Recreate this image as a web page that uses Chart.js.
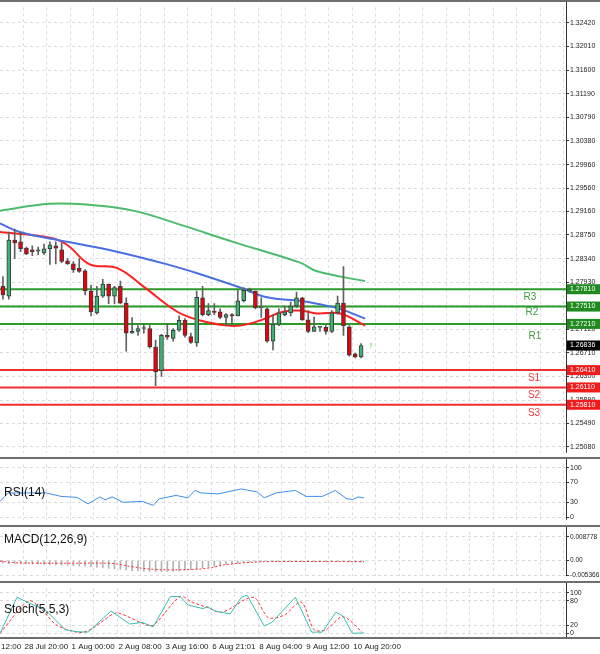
<!DOCTYPE html>
<html>
<head>
<meta charset="utf-8">
<script src="https://cdn.jsdelivr.net/npm/chart.js@4"></script>
<style>
  body { margin: 0; background: #fff; }
  #wrap { position: relative; width: 600px; height: 654px; overflow: hidden; }
  canvas { position: absolute; left: 0; }
  .sep { position: absolute; left: 0; width: 600px; height: 2px; background: #6e6e6e; }
</style>
</head>
<body>
<div id="wrap">
  <div class="sep" style="top:0"></div>
  <canvas id="main" width="600" height="456" style="top:2px"></canvas>
  <div class="sep" style="top:457px"></div>
  <canvas id="rsi" width="600" height="66" style="top:459px"></canvas>
  <div class="sep" style="top:525px"></div>
  <canvas id="macd" width="600" height="54" style="top:527px"></canvas>
  <div class="sep" style="top:581px"></div>
  <canvas id="stoch" width="600" height="71" style="top:583px"></canvas>
</div>
<script>
// H4 candles
const opens  = [1.2786,1.2769,1.2866,1.2863,1.2852,1.2849,1.2847,1.2844,1.2851,1.2856,1.2849,1.2830,1.2825,1.2817,1.2813,1.2778,1.2740,1.2769,1.2790,1.2769,1.2786,1.2757,1.2705,1.2708,1.2713,1.2713,1.2681,1.2640,1.2701,1.2696,1.2710,1.2727,1.2699,1.2688,1.2766,1.2737,1.2742,1.2742,1.2732,1.2737,1.2735,1.2761,1.2778,1.2778,1.2749,1.2747,1.2691,1.2720,1.2737,1.2740,1.2752,1.2766,1.2728,1.2708,1.2715,1.2715,1.2708,1.2740,1.2757,1.2716,1.2669,1.2664];
const highs  = [1.2803,1.2880,1.2885,1.2880,1.2854,1.2856,1.2854,1.2859,1.2863,1.2863,1.2861,1.2834,1.2829,1.2834,1.2815,1.2788,1.2786,1.2798,1.2790,1.2786,1.2795,1.2766,1.2732,1.2718,1.2722,1.2718,1.2693,1.2703,1.2722,1.2713,1.2735,1.2730,1.2705,1.2778,1.2786,1.2756,1.2756,1.2747,1.2739,1.2739,1.2779,1.2784,1.2783,1.2778,1.2766,1.2749,1.2737,1.2747,1.2752,1.2759,1.2776,1.2767,1.2744,1.2733,1.2716,1.2718,1.2744,1.2769,1.2820,1.2718,1.2670,1.2687];
const lows   = [1.2764,1.2764,1.2834,1.2846,1.2841,1.2839,1.2841,1.2841,1.2824,1.2825,1.2827,1.2824,1.2810,1.2810,1.2771,1.2735,1.2738,1.2767,1.2756,1.2756,1.2756,1.2674,1.2705,1.2701,1.2705,1.2679,1.2614,1.2630,1.2694,1.2691,1.2708,1.2698,1.2687,1.2682,1.2735,1.2735,1.2737,1.2730,1.2718,1.2718,1.2735,1.2759,1.2776,1.2747,1.2732,1.2689,1.2676,1.2718,1.2735,1.2735,1.2749,1.2727,1.2706,1.2708,1.2708,1.2703,1.2706,1.2738,1.2701,1.2665,1.2662,1.2662];
const closes = [1.2771,1.2866,1.2861,1.2851,1.2842,1.2846,1.2849,1.2851,1.2858,1.2852,1.2829,1.2825,1.2815,1.2812,1.2778,1.2742,1.2769,1.2790,1.2769,1.2784,1.2757,1.2705,1.2708,1.2713,1.2714,1.2681,1.2638,1.2701,1.2698,1.2710,1.2727,1.2701,1.2689,1.2767,1.2737,1.2744,1.2741,1.2732,1.2737,1.2735,1.2761,1.2779,1.2781,1.2749,1.2749,1.2691,1.2720,1.2740,1.2742,1.2752,1.2766,1.2728,1.2708,1.2716,1.2715,1.2708,1.2740,1.2757,1.2718,1.2667,1.2664,1.26836];

// moving averages: [candle index, price]
const maRedIdx   = [-0.5,8.0,10.9,14.8,19.4,23.9,29.7,33.6,38.2,40.4,43.8,47.7,50.6,53.5,57.4,61.7];
const maRed      = [1.2880,1.2870,1.2858,1.2824,1.2818,1.2786,1.2742,1.2727,1.2718,1.2718,1.2727,1.2742,1.2744,1.2739,1.2739,1.2718];
const maBlueIdx  = [-0.5,2.9,10.9,19.4,28.0,33.6,40.4,45.0,50.6,53.5,57.4,61.7];
const maBlue     = [1.2895,1.2880,1.2863,1.2846,1.2824,1.2807,1.2784,1.2767,1.2761,1.2756,1.2747,1.2730];
const maGreenIdx = [-0.5,8.0,14.8,22.2,30.7,39.2,50.6,53.5,61.7];
const maGreen    = [1.2917,1.2929,1.2927,1.2917,1.2891,1.2863,1.2827,1.2812,1.2795];

// pivot levels
const levelNames  = ["R3","R2","R1","S1","S2","S3"];
const levelValues = [1.27810,1.27510,1.27210,1.26410,1.26110,1.25810];
const lastPrice = 1.26836;

const priceTicks = [1.32420,1.32010,1.31600,1.31190,1.30790,1.30380,1.29960,1.29560,1.29160,1.28750,1.28340,1.27930,1.27520,1.27120,1.26710,1.26300,1.25890,1.25490,1.25080];

// RSI(14)
const rsiIdx = [-0.5,0.9,7.3,9.9,12.6,14.5,16.5,17.4,18.6,20.5,23.7,25.6,26.6,29.5,31.5,32.7,33.7,36.6,40.6,43.3,44.5,46.5,49.8,51.6,54.4,56.6,58.6,59.6,60.5,61.5];
const rsiVal = [32,49,49,42,40,27,41,35,41,30,32,24,37,44,39,54,49,47,57,51,39,49,54,42,42,54,37,36,41,39];

// MACD(12,26,9)
const macdHist = [-0.0010,-0.0011,-0.0012,-0.0012,-0.0012,-0.0013,-0.0013,-0.0014,-0.0015,-0.0016,-0.0017,-0.0018,-0.0019,-0.0020,-0.0021,-0.0023,-0.0025,-0.0027,-0.0029,-0.0031,-0.0033,-0.0035,-0.0037,-0.0038,-0.0039,-0.0040,-0.0041,-0.0041,-0.0040,-0.0039,-0.0038,-0.0036,-0.0034,-0.0031,-0.0028,-0.0025,-0.0022,-0.0019,-0.0016,-0.0013,-0.0010,-0.0008,-0.0006,-0.0005,-0.0004,-0.0004,-0.0003,-0.0003,-0.0003,-0.0003,-0.0003,-0.0003,-0.0004,-0.0004,-0.0004,-0.0004,-0.0004,-0.0004,-0.0004,-0.0005,-0.0006,-0.0006];
const macdSigIdx = [-0.5,2,10,18,20,22,26,32,35,38,42,45,61.5];
const macdSig    = [-0.0002,-0.0008,-0.0010,-0.0010,-0.0015,-0.0023,-0.0033,-0.0033,-0.0028,-0.0015,-0.0007,-0.0004,-0.0004];

// Stoch(5,5,3)
const stIdx = [-0.5,2.4,4.1,7.3,10.6,12.6,14.5,18.4,21.6,23.7,25.6,28.5,30.2,31.5,34.1,34.8,36.1,38.7,40.6,41.6,44.5,45.8,49.8,52.6,54.4,56.7,57.9,59.5,61.5];
const stMain = [0,89,77,57,9,4,3,55,23,27,16,91,91,70,61,66,55,48,89,94,18,27,89,3,3,52,43,0,1];
const stSigIdx = [-0.5,4.4,6.7,9.2,13.1,15.2,19.1,21.0,23.7,25.6,30.2,32.2,34.8,37.3,42.6,45.2,47.9,50.8,53.0,55.0,57.9,61.2];
const stSig    = [0,80,57,20,2,12,50,43,25,20,91,77,64,52,89,39,45,77,9,9,41,3];

// time axis
const timeIdx = [-4,4,12,20,28,36,44,52,60];
const timeLabels = ["27 Jul 12:00","28 Jul 20:00","1 Aug 00:00","2 Aug 08:00","3 Aug 16:00","6 Aug 21:01","8 Aug 04:00","9 Aug 12:00","10 Aug 20:00"];

const XMIN = -0.5, XMAX = 95.9;
const FONT = "'Liberation Sans', Arial, sans-serif";
const GRID = "#dcdcdc";

function pts(xs, ys) { return xs.map((x, i) => ({ x, y: ys[i] })); }

function xScale() {
  return {
    type: "linear", min: XMIN, max: XMAX, offset: false,
    ticks: { display: false },
    border: { display: false, dash: [3, 3] },
    grid: { color: GRID, lineWidth: 1, drawTicks: false, offset: false },
    afterBuildTicks: s => {
      const t = [];
      for (let v = 3.5; v <= XMAX; v += 4) t.push({ value: v });
      s.ticks = t;
    },
    afterFit: s => { s.height = 0; }
  };
}

function yScale(min, max, values, fmt) {
  return {
    position: "right", min, max,
    border: { display: false, dash: [3, 3] },
    grid: { color: GRID, lineWidth: 1, tickLength: 3, tickColor: "#333" },
    ticks: { font: { family: FONT, size: 7 }, color: "#222", padding: 1, callback: fmt },
    afterBuildTicks: s => { s.ticks = values.map(v => ({ value: v })); },
    afterFit: s => { s.width = 34; }
  };
}

// solid axis line on the right edge of every panel
const axisLine = {
  id: "axisLine",
  afterDraw(chart) {
    const c = chart.ctx, a = chart.chartArea;
    c.save();
    c.strokeStyle = "#333";
    c.lineWidth = 1;
    c.beginPath(); c.moveTo(a.right + 0.5, 0); c.lineTo(a.right + 0.5, a.bottom); c.stroke();
    c.restore();
  }
};

function panelTitle(text, yOff) {
  return {
    id: "title" + text.replace(/\W/g, ""),
    afterDraw(chart) {
      const c = chart.ctx;
      c.save();
      c.font = "12px " + FONT;
      c.fillStyle = "#111";
      c.textBaseline = "middle";
      c.fillText(text, 4, yOff);
      c.restore();
    }
  };
}

// main price chart
const upCol = "#3cb371", downCol = "#e8000b";
const isUp = opens.map((o, i) => closes[i] >= o);
const idx = opens.map((_, i) => i);

const levelLines = levelValues.map((v, i) => ({
  type: "line",
  data: [{ x: XMIN, y: v }, { x: XMAX, y: v }],
  borderColor: i < 3 ? "#2a9a2a" : "#f03030",
  borderWidth: 2, pointRadius: 0, order: 5
}));

const mainLabels = {
  id: "mainLabels",
  afterDraw(chart) {
    const c = chart.ctx, y = chart.scales.y, x = chart.scales.x;
    c.save();
    c.font = "10px " + FONT;
    c.textAlign = "center";
    c.textBaseline = "middle";
    const labelDy = [8, 6, 12, 8, 8, 8];
    const labelX = [530, 532, 535, 534, 534, 534];
    levelValues.forEach((v, i) => {
      c.fillStyle = i < 3 ? "#3c9c3c" : "#f03c3c";
      c.fillText(levelNames[i], labelX[i], y.getPixelForValue(v) + labelDy[i]);
    });
    c.font = "7px " + FONT;
    c.textAlign = "left";
    const box = (v, bg) => {
      const py = y.getPixelForValue(v);
      c.fillStyle = bg;
      c.fillRect(567, py - 5, 33, 10);
      c.fillStyle = "#fff";
      c.fillText(v.toFixed(5), 570, py);
    };
    levelValues.forEach((v, i) => box(v, i < 3 ? "#1f8a1f" : "#ee1c1c"));
    box(lastPrice, "#000");
    c.fillStyle = "#2ecc2e";
    c.font = "9px " + FONT;
    c.fillText("\u2191", x.getPixelForValue(62.3), y.getPixelForValue(1.2683));
    c.restore();
  }
};

const common = {
  responsive: false, animation: false,
  plugins: { legend: { display: false }, tooltip: { enabled: false } }
};

new Chart(document.getElementById("main"), {
  data: {
    datasets: [
      ...levelLines,
      { type: "line", data: pts(maGreenIdx, maGreen), borderColor: "#4cbb6c", borderWidth: 2, pointRadius: 0, tension: 0.4, order: 4 },
      { type: "line", data: pts(maBlueIdx, maBlue), borderColor: "#4a6fe3", borderWidth: 2, pointRadius: 0, tension: 0.4, order: 4 },
      { type: "line", data: pts(maRedIdx, maRed), borderColor: "#ff2020", borderWidth: 2, pointRadius: 0, tension: 0.4, order: 4 },
      { type: "bar", data: idx.map(i => ({ x: i, y: [lows[i], highs[i]] })), backgroundColor: "#606060", barThickness: 1, grouped: false, order: 3 },
      { type: "bar", data: idx.map(i => ({ x: i, y: [opens[i], closes[i]] })), backgroundColor: isUp.map(u => u ? upCol : downCol),
        borderColor: "#3a3a3a", borderWidth: 1, borderSkipped: false, barThickness: 4, minBarLength: 1, grouped: false, order: 2 }
    ]
  },
  options: {
    ...common, layout: { padding: 0 },
    scales: {
      x: xScale(),
      y: yScale(1.24979, 1.32691, priceTicks, v => v.toFixed(5))
    }
  },
  plugins: [axisLine, mainLabels]
});

// RSI
new Chart(document.getElementById("rsi"), {
  type: "line",
  data: { datasets: [{ data: pts(rsiIdx, rsiVal), borderColor: "#3d8fe8", borderWidth: 1, pointRadius: 0 }] },
  options: {
    ...common, layout: { padding: 0 },
    scales: { x: xScale(), y: yScale(-5.1, 106.8, [0, 30, 70, 100], v => v) }
  },
  plugins: [axisLine, panelTitle("RSI(14)", 34)]
});

// MACD
new Chart(document.getElementById("macd"), {
  data: {
    datasets: [
      { type: "bar", data: idx.map(i => ({ x: i, y: macdHist[i] })), backgroundColor: "#b4b4b4", barThickness: 1, order: 2 },
      { type: "line", data: pts(macdSigIdx, macdSig), borderColor: "#ff3030", borderWidth: 1, borderDash: [2, 2], pointRadius: 0, tension: 0.4, order: 1 }
    ]
  },
  options: {
    ...common, layout: { padding: 0 },
    scales: {
      x: xScale(),
      y: { ...yScale(-0.00575, 0.01059, [-0.005366, 0, 0.008778], v => v === 0 ? "0.00" : v.toFixed(6)),
           ticks: { font: { family: FONT, size: 6.5 }, color: "#222", padding: 1, callback: v => v === 0 ? "0.00" : v.toFixed(6) } }
    }
  },
  plugins: [axisLine, panelTitle("MACD(12,26,9)", 13)]
});

// Stochastic + time labels
const timeAxis = {
  id: "timeAxis",
  afterDraw(chart) {
    const c = chart.ctx, x = chart.scales.x, a = chart.chartArea;
    c.save();
    c.font = "8px " + FONT;
    c.fillStyle = "#222";
    c.textBaseline = "middle";
    timeIdx.forEach((v, i) => c.fillText(timeLabels[i], x.getPixelForValue(v - 0.5) + 1, a.bottom + 10));
    c.strokeStyle = "#6e6e6e";
    c.lineWidth = 2;
    c.beginPath(); c.moveTo(0, a.bottom + 1); c.lineTo(600, a.bottom + 1); c.stroke();
    c.restore();
  }
};

new Chart(document.getElementById("stoch"), {
  type: "line",
  data: {
    datasets: [
      { data: pts(stIdx, stMain), borderColor: "#36c0b0", borderWidth: 1, pointRadius: 0 },
      { data: pts(stSigIdx, stSig), borderColor: "#ff3030", borderWidth: 1, borderDash: [3, 2], pointRadius: 0, tension: 0.3 }
    ]
  },
  options: {
    ...common, layout: { padding: { bottom: 17 } },
    scales: { x: xScale(), y: yScale(-9, 111.4, [0, 20, 80, 100], v => v) }
  },
  plugins: [axisLine, panelTitle("Stoch(5,5,3)", 27), timeAxis]
});
</script>
</body>
</html>
